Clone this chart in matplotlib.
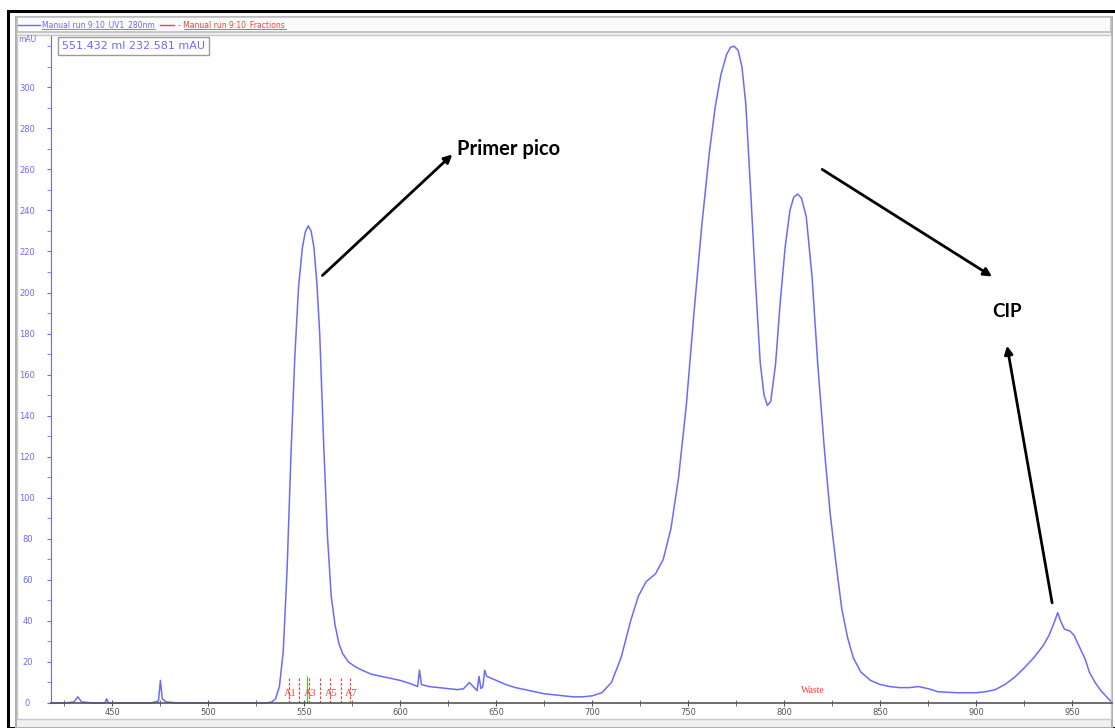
import matplotlib.pyplot as plt
from matplotlib.patches import Rectangle
from matplotlib.lines import Line2D

# Cromatograma UV 280 nm (ml, mAU)
volumen_ml = [418, 425, 430, 432, 434, 440, 446, 447, 448, 470, 474, 475, 476, 478, 485,
              500, 520, 530, 533, 535, 537, 539, 541, 543, 545, 547, 549, 550.5, 552, 553.5,
              555, 556.5, 558, 560, 562, 564, 566, 568, 570, 573, 576, 580, 585, 590, 595,
              600, 605, 609, 610, 611, 615, 620, 625, 630, 633, 636, 638, 640, 641, 642,
              643, 644, 645, 650, 655, 660, 665, 670, 675, 680, 685, 690, 695, 700, 705,
              710, 715, 720, 724, 728, 733, 737, 741, 745, 749, 753, 757, 761, 764, 767,
              770, 772, 774, 776, 778, 780, 782.5, 785, 787.5, 789.5, 791.3, 793, 795.5, 798,
              800.5, 803, 805, 807, 809, 811.5, 814.5, 817.5, 821, 824, 827, 830, 833, 836,
              840, 845, 850, 855, 860, 865, 870, 875, 880, 890, 900, 905, 910, 915, 920,
              925, 930, 935, 938, 941, 942.5, 944, 946, 949, 951, 954, 957, 959, 962,
              965, 968, 970]
absorbancia = [0, 0, 0.5, 3, 0.5, 0, 0, 2, 0, 0, 1, 11, 2, 0.5, 0,
               0, 0, 0, 0.5, 2, 8, 25, 65, 120, 168, 203, 222, 229.5, 232.5, 230,
               222, 205, 180, 128, 82, 52, 38, 29, 24, 20, 18, 16, 14, 13, 12,
               11, 9.5, 8, 16, 9, 8, 7.5, 7, 6.5, 7, 10, 8, 6, 13, 7,
               8, 16, 13, 11, 9, 7.5, 6.5, 5.5, 4.5, 4, 3.5, 3, 3, 3.5, 5,
               10, 22, 40, 52, 59, 63, 70, 85, 110, 145, 190, 232, 268, 290, 306,
               316, 319.5, 320, 318, 310, 292, 250, 206, 166, 150, 145, 147, 165, 196,
               222, 240, 246.5, 248, 246, 237, 208, 165, 123, 92, 68, 46, 32, 22,
               15, 11, 9, 8, 7.5, 7.5, 8, 7, 5.5, 5, 5, 5.5, 6.5, 9, 12.5,
               17, 22, 28, 33, 40, 44, 40, 36, 35, 33, 27, 21, 15, 10,
               6, 3, 1]

# Fracciones
fracciones_inicio = [542, 547, 552.5, 558, 563.5, 569, 574]
fracciones_etiq = ["A1", "A3", "A5", "A7"]
fracciones_pos = [542.5, 553, 564, 574.5]

cursor = (551.432, 232.581)

AZUL = "#6a6aff"
ROJO = "#ff3b3b"

W, H = 1115, 728
fig = plt.figure(figsize=(W / 100, H / 100), dpi=100)
fig.patch.set_facecolor("white")

def px(x0, y0, x1, y1):
    # rectangulo en pixeles -> coordenadas de figura
    return [x0 / W, 1 - y1 / H, (x1 - x0) / W, (y1 - y0) / H]

# marcos de la ventana (detras de los ejes)
fig.add_artist(Rectangle((8 / W, 0), 1.2, 1 - 11 / H, transform=fig.transFigure,
                         fill=False, ec="black", lw=2.2, zorder=-10))
fig.add_artist(Rectangle((16 / W, 0), (1112 - 16) / W, 1 - 17 / H, transform=fig.transFigure,
                         fc="#f1f1f1", ec="#b0b0b0", lw=1.5, zorder=-9))
fig.add_artist(Rectangle((17 / W, 9 / H), (1111 - 17) / W, 1 - 35 / H - 9 / H,
                         transform=fig.transFigure, fc="white", ec="#c8c8c8", lw=1, zorder=-8))
fig.add_artist(Rectangle((17 / W, 1 - 32 / H), (1111 - 17) / W, 15 / H,
                         transform=fig.transFigure, fc="#fbfbfb", ec="#bdbdbd", lw=1.2,
                         zorder=-8))

# leyenda de cabecera
fig.add_artist(Line2D([18 / W, 40 / W], [1 - 25 / H] * 2, color=AZUL, lw=1))
fig.text(42 / W, 1 - 25 / H, "Manual run 9:10_UV1_280nm", color=AZUL, fontsize=5.5,
         va="center", ha="left")
fig.add_artist(Line2D([42 / W, 155 / W], [1 - 29 / H] * 2, color=AZUL, lw=0.6))
fig.add_artist(Line2D([160 / W, 174 / W], [1 - 25 / H] * 2, color=ROJO, lw=1))
fig.text(178 / W, 1 - 25 / H, "- Manual run 9:10_Fractions", color=ROJO, fontsize=5.5,
         va="center", ha="left")
fig.add_artist(Line2D([184 / W, 286 / W], [1 - 29 / H] * 2, color=ROJO, lw=0.6))

ax = fig.add_axes(px(51, 36, 1112, 703))
ax.set_facecolor("none")
ax.plot(volumen_ml, absorbancia, color=AZUL, lw=1.1, clip_on=False)

ax.set_xlim(418, 970.8)
ax.set_ylim(0, 325)
for s in ["top", "right"]:
    ax.spines[s].set_visible(False)
ax.spines["left"].set_color(AZUL)
ax.spines["bottom"].set_color("#555555")
ax.spines["bottom"].set_linewidth(1.2)

ax.set_xticks(range(450, 951, 50))
ax.set_xticks(range(425, 971, 25), minor=True)
ax.set_yticks(range(0, 301, 20))
ax.set_yticks(range(0, 321, 10), minor=True)
ax.tick_params(axis="x", which="both", direction="inout", length=5, color="#555555",
               labelsize=6, labelcolor="#555555", pad=1)
ax.tick_params(axis="y", which="both", direction="out", length=3, color=AZUL,
               labelsize=6, labelcolor=AZUL, pad=14)
for lab in ax.get_yticklabels():
    lab.set_horizontalalignment("center")

fig.text(18 / W, 1 - 40 / H, "mAU", color=AZUL, fontsize=5.5, va="center", ha="left")

# caja del cursor
fig.text(62 / W, 1 - 46 / H, f"{cursor[0]:.3f} ml {cursor[1]:.3f} mAU", color=AZUL,
         fontsize=8, va="center", ha="left",
         bbox=dict(boxstyle="square,pad=0.4", fc="white", ec="#9a9a9a", lw=1))

# fracciones
ax.vlines(fracciones_inicio, 0, 12, colors=ROJO, lw=0.8, linestyles=(0, (2.5, 1.5)))
for x, t in zip(fracciones_pos, fracciones_etiq):
    ax.text(x, 4.5, t, color=ROJO, fontsize=7.5, family="Liberation Serif", ha="center",
            va="center")
ax.vlines(cursor[0], 0, 13, colors="#40d040", lw=0.9)
ax.text(815, 6, "Waste", color=ROJO, fontsize=7, family="Liberation Serif",
        ha="center", va="center")

# anotaciones
flecha = dict(arrowstyle="-|>", color="black", lw=2, mutation_scale=12, shrinkA=0, shrinkB=0)
ax.annotate("", xy=(627.1, 267.3), xytext=(559.4, 208.3), arrowprops=flecha)
ax.text(629.7, 269.8, "Primer pico", fontsize=14.5, fontweight="bold", family="Lato",
        ha="left", va="center")
ax.annotate("", xy=(908.3, 207.8), xytext=(819.8, 260), arrowprops=flecha)
ax.text(916.1, 190.7, "CIP", fontsize=13.5, fontweight="bold", family="Lato",
        ha="center", va="center")
ax.annotate("", xy=(916.1, 174.1), xytext=(939.6, 48.8), arrowprops=flecha)

fig.savefig("out.png", dpi=100)
